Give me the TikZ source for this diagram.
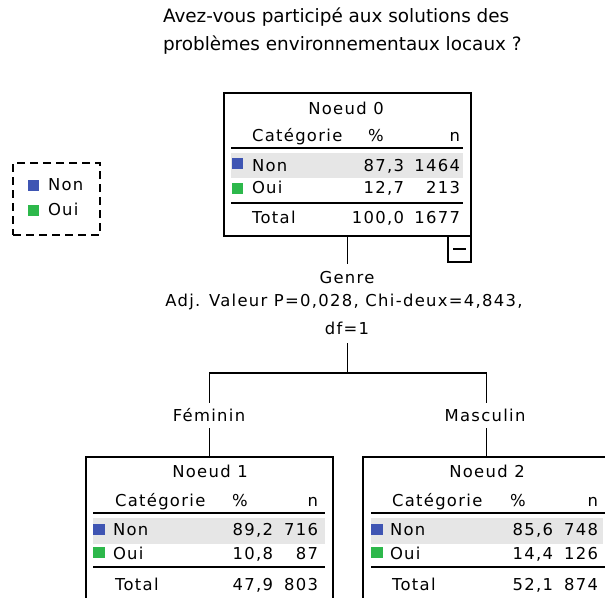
\documentclass[tikz,border=0pt]{standalone}
\usepackage{fontspec}
\setmainfont{DejaVu Sans}
\newfontfamily\tabfont[LetterSpace=8]{DejaVu Sans}
\newfontfamily\ttlfont{DejaVu Sans}
\definecolor{catblue}{HTML}{3F55B3}
\definecolor{catgreen}{HTML}{2DB84B}
\definecolor{bandgray}{HTML}{E6E6E6}
\begin{document}
\begin{tikzpicture}[x=1pt,y=-1pt,
  every node/.style={inner sep=0pt, outer sep=0pt, font=\tabfont\fontsize{16.4}{19}\selectfont},
  boxframe/.style={draw, line width=1.4pt, anchor=north west, minimum width=247pt, minimum height=143pt},
  conn/.style={line width=1.4pt},
  rulel/.style={line width=1.4pt},
  lt/.style={anchor=mid west, yshift=-1.5pt},
  rt/.style={anchor=mid east, yshift=-1.5pt},
  ct/.style={anchor=mid, yshift=-1.5pt},
  ttl/.style={anchor=mid west, yshift=-1.5pt, font=\ttlfont\fontsize{18.4}{21}\selectfont},
  bsq/.style={fill=catblue},
  gsq/.style={fill=catgreen}
]
\useasboundingbox (0,0) rectangle (605,597);
\clip (0,0) rectangle (605,597);

% title
\node[ttl] (t1) at (163,18) {Avez-vous participé aux solutions des};
\node[ttl] (t2) at (163,46) {problèmes environnementaux locaux ?};

% legend
\node[draw, line width=1.2pt, dash pattern=on 8pt off 5pt, anchor=north west, minimum width=87pt, minimum height=72pt] (legend) at (13,163) {};
\fill[bsq] (28,180) rectangle (39,191);
\fill[gsq] (28,205) rectangle (39,216);
\node[lt] (lnon) at (48,186) {Non};
\node[lt] (loui) at (48,211) {Oui};

% ---------- Node 0 ----------
\fill[bandgray] (231,153) rectangle (463,178);
\node[boxframe] (n0) at (224,93) {};
\node[ct] (n0h) at (346,110) {Noeud 0};
\node[lt] (n0c) at (252,137) {Catégorie};
\node[ct] (n0p) at (376,137) {\%};
\node[rt] (n0n) at (460,137) {n};
\draw[rulel] (231,148) -- (463,148);
\fill[bsq] (232,158) rectangle (243,169);
\node[lt] (n0a) at (252,167) {Non};
\node[rt] (n0ap) at (404,167) {87,3};
\node[rt] (n0an) at (460,167) {1464};
\fill[gsq] (232,183) rectangle (243,194);
\node[lt] (n0b) at (252,189) {Oui};
\node[rt] (n0bp) at (404,189) {12,7};
\node[rt] (n0bn) at (460,189) {213};
\draw[rulel] (231,203) -- (463,203);
\node[lt] (n0t) at (252,219) {Total};
\node[rt] (n0tp) at (404,219) {100,0};
\node[rt] (n0tn) at (460,219) {1677};
\node[draw, line width=1.4pt, anchor=north west, minimum width=23pt, minimum height=26pt] (minus) at (448,236) {};
\draw[line width=1.4pt] ([xshift=5pt]minus.west) -- ([xshift=-5pt]minus.east);

% split label
\coordinate (c0) at (347,264);
\draw[conn] (n0.south) -- (n0.south |- c0);
\node[ct] (genre) at (347,279) {Genre};
\node[ct] (adj) at (344,302) {Adj. Valeur P=0,028, Chi-deux=4,843,};
\node[ct] (df) at (347,330) {df=1};
\coordinate (c1) at (347.5,343);
\coordinate (split) at (347.5,373);
\coordinate (cf) at (209.5,403);
\coordinate (cm) at (486.5,403);
\draw[conn] (c1) -- (split);
\draw[conn] (split) -| (cf);
\draw[conn] (split) -| (cm);
\node[ct] (fem) at (209,417) {Féminin};
\node[ct] (masc) at (485,417) {Masculin};
\coordinate (cf2) at (209.5,428);
\coordinate (cm2) at (486.5,428);

% ---------- Node 1 ----------
\fill[bandgray] (93,518) rectangle (325,544);
\node[boxframe] (n1) at (86,457) {};
\draw[conn] (cf2) -- (n1.north);
\node[ct] (n1h) at (210,473) {Noeud 1};
\node[lt] (n1c) at (115,502) {Catégorie};
\node[ct] (n1p) at (240,502) {\%};
\node[rt] (n1n) at (318,502) {n};
\draw[rulel] (93,513) -- (325,513);
\fill[bsq] (93,524) rectangle (105,535);
\node[lt] (n1a) at (113,531) {Non};
\node[rt] (n1ap) at (273,531) {89,2};
\node[rt] (n1an) at (318,531) {716};
\fill[gsq] (93,547) rectangle (105,558);
\node[lt] (n1b) at (113,555) {Oui};
\node[rt] (n1bp) at (273,555) {10,8};
\node[rt] (n1bn) at (318,555) {87};
\draw[rulel] (93,567) -- (325,567);
\node[lt] (n1t) at (115,586) {Total};
\node[rt] (n1tp) at (273,586) {47,9};
\node[rt] (n1tn) at (318,586) {803};

% ---------- Node 2 ----------
\fill[bandgray] (371,518) rectangle (603,544);
\node[boxframe] (n2) at (363,457) {};
\draw[conn] (cm2) -- (n2.north);
\node[ct] (n2h) at (487,473) {Noeud 2};
\node[lt] (n2c) at (392,502) {Catégorie};
\node[ct] (n2p) at (518,502) {\%};
\node[rt] (n2n) at (598,502) {n};
\draw[rulel] (371,513) -- (605,513);
\fill[bsq] (371,524) rectangle (383,535);
\node[lt] (n2a) at (390,531) {Non};
\node[rt] (n2ap) at (553,531) {85,6};
\node[rt] (n2an) at (598,531) {748};
\fill[gsq] (371,547) rectangle (383,558);
\node[lt] (n2b) at (390,555) {Oui};
\node[rt] (n2bp) at (553,555) {14,4};
\node[rt] (n2bn) at (598,555) {126};
\draw[rulel] (371,567) -- (605,567);
\node[lt] (n2t) at (392,586) {Total};
\node[rt] (n2tp) at (553,586) {52,1};
\node[rt] (n2tn) at (598,586) {874};
\end{tikzpicture}
\end{document}
